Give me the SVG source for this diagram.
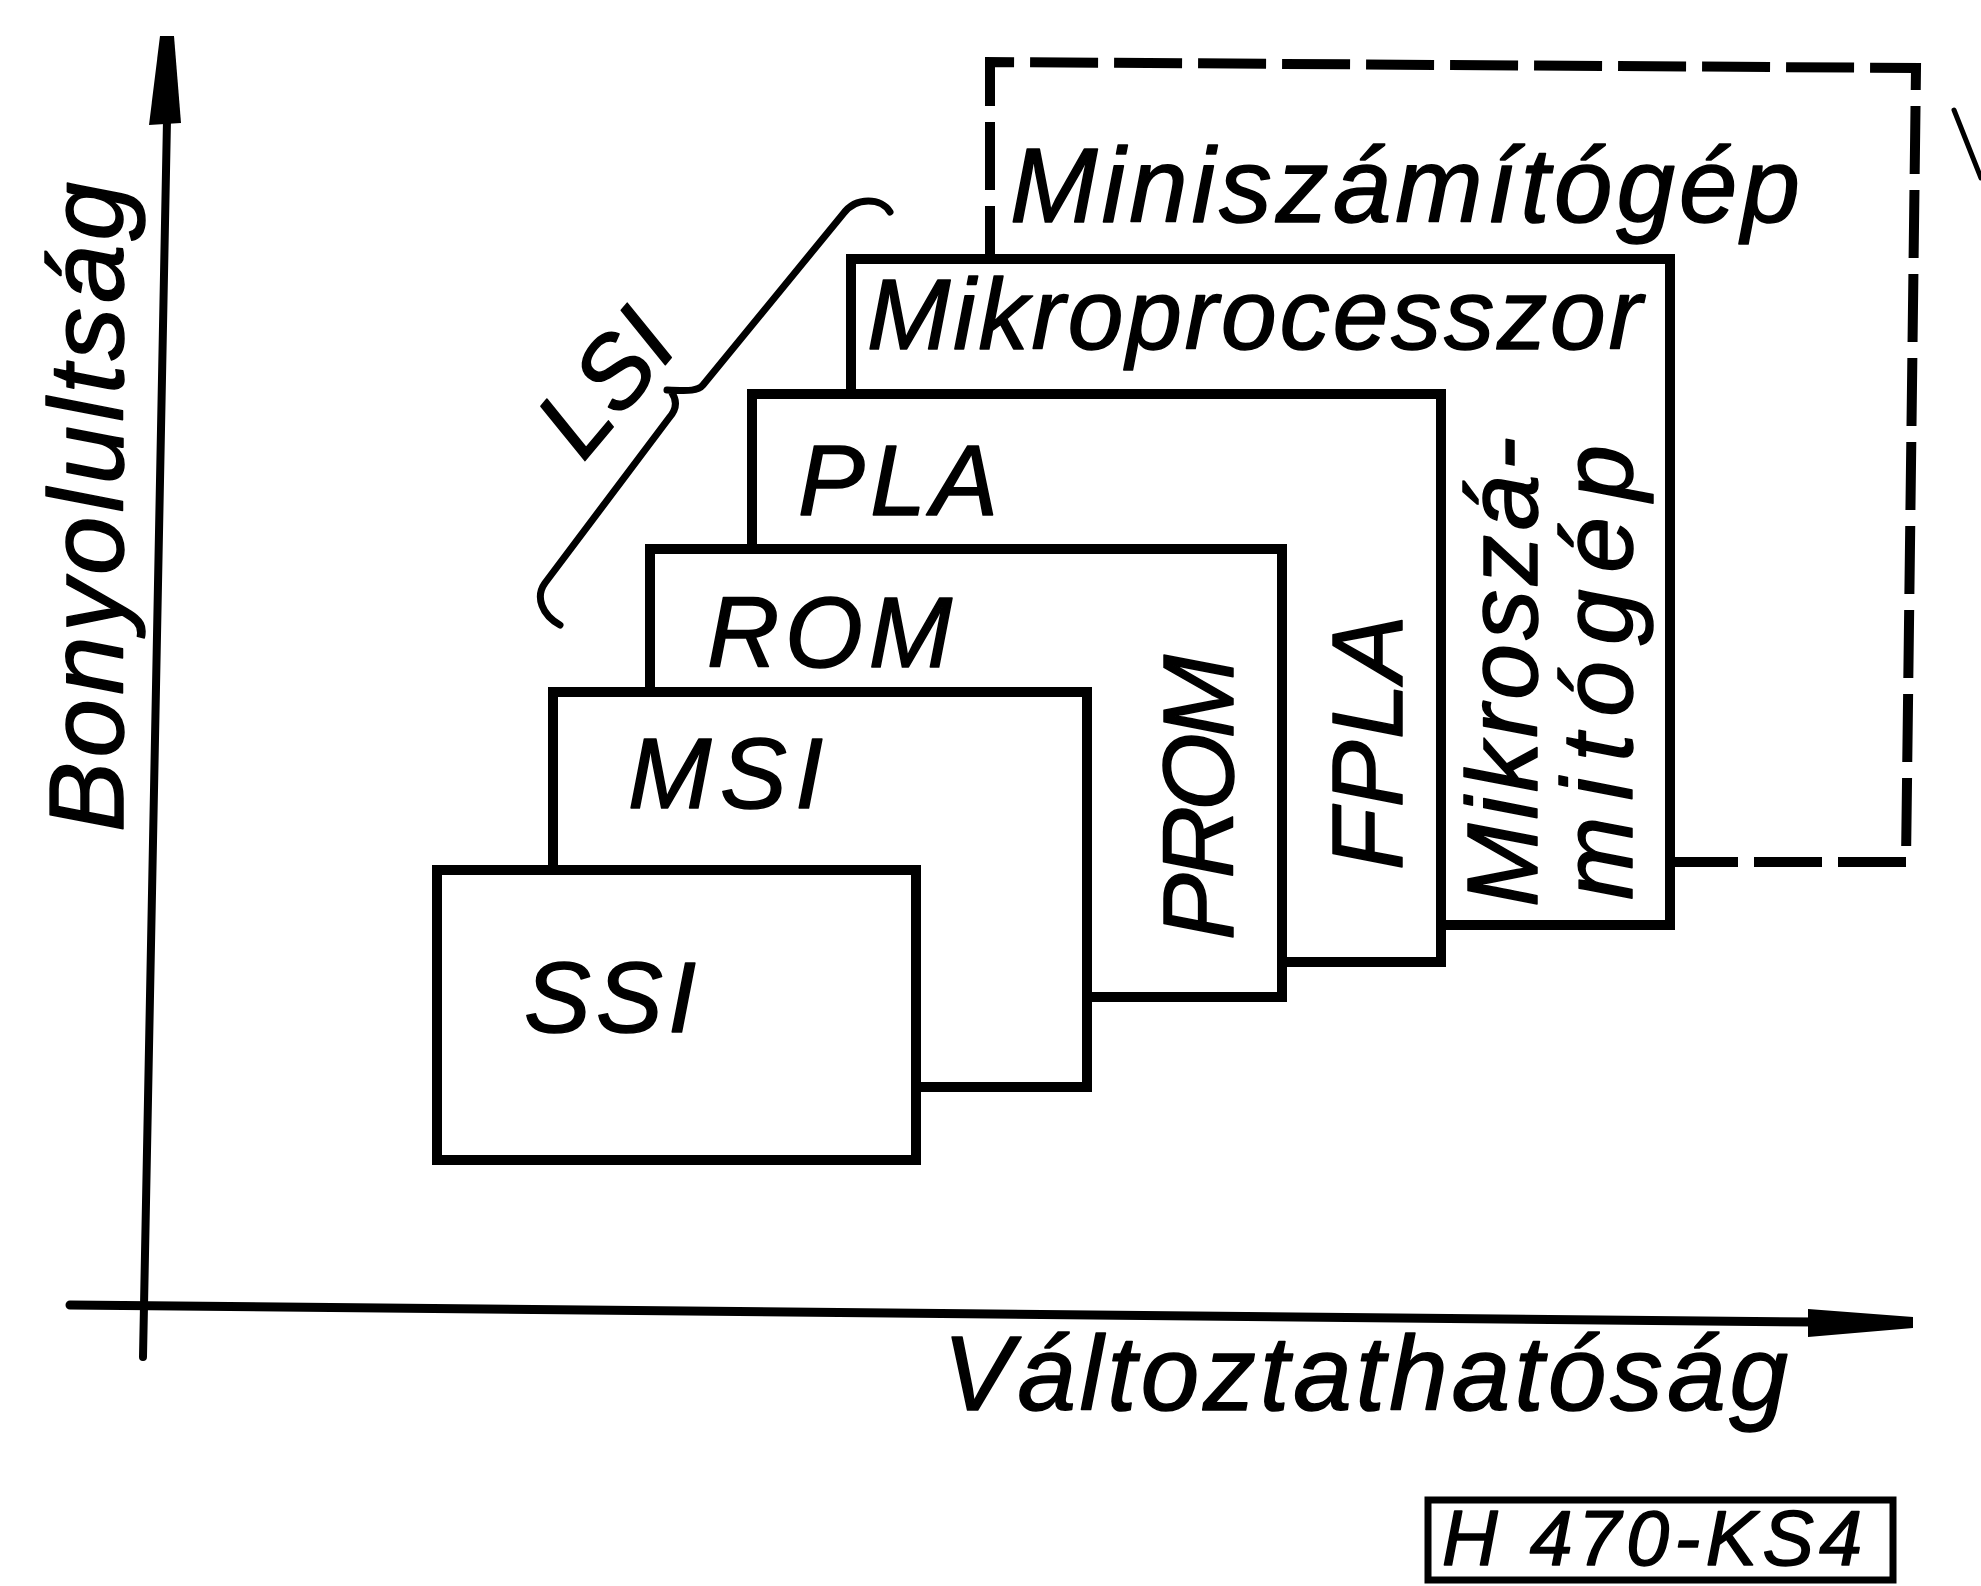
<svg xmlns="http://www.w3.org/2000/svg" width="1981" height="1586" viewBox="0 0 1981 1586">
<defs>
<style>
.box{fill:#fff;stroke:#000;stroke-width:10;stroke-linejoin:miter}
.dash{fill:none;stroke:#000;stroke-width:10;stroke-dasharray:68 16}
.ln{fill:none;stroke:#000;stroke-linecap:round;stroke-linejoin:round}
.t{font-family:"Liberation Sans",Arial,sans-serif;font-style:italic;font-size:100px;fill:#000;stroke:#000;stroke-width:1.5;stroke-linejoin:round}
.big{font-size:105px}
</style>
</defs>
<rect width="1981" height="1586" fill="#fff"/>

<g id="connectors">
  <g id="y-axis">
    <line class="ln" x1="167" y1="120" x2="143" y2="1357" stroke-width="8"/>
    <polygon points="160,36 174,36 181,123 149,125" fill="#000"/>
  </g>
  <g id="x-axis">
    <line class="ln" x1="70" y1="1305" x2="1815" y2="1322" stroke-width="9"/>
    <polygon points="1808,1309 1913,1317 1913,1328 1808,1337" fill="#000"/>
  </g>
</g>

<g id="node-miniszamitogep">
  <path class="dash" d="M1670 862 L1906 862 L1916 68 L990 62 L990 259"/>
  <text class="t big" x="1010" y="222" textLength="790">Miniszámítógép</text>
</g>

<g id="node-mikroprocesszor">
  <rect class="box" x="851" y="259" width="819" height="666"/>
  <text class="t" x="867" y="349" textLength="775">Mikroprocesszor</text>
  <text class="t" transform="translate(1537 907) rotate(-90)" textLength="470">Mikroszá-</text>
  <text class="t" transform="translate(1632 900) rotate(-90)" textLength="455">mitógép</text>
</g>

<g id="node-pla">
  <rect class="box" x="752" y="394" width="689" height="568"/>
  <text class="t" x="798" y="515" textLength="200">PLA</text>
  <text class="t" transform="translate(1402 870) rotate(-90)" textLength="255">FPLA</text>
</g>

<g id="node-rom">
  <rect class="box" x="650" y="549" width="632" height="448"/>
  <text class="t" x="707" y="667" textLength="245">ROM</text>
  <text class="t" transform="translate(1233 940) rotate(-90)" textLength="285">PROM</text>
</g>

<g id="node-msi">
  <rect class="box" x="553" y="692" width="534" height="395"/>
  <text class="t" x="628" y="808" textLength="195">MSI</text>
</g>

<g id="node-ssi">
  <rect class="box" x="437" y="870" width="479" height="290"/>
  <text class="t" x="524" y="1032" textLength="172">SSI</text>
</g>

<g id="lsi-brace">
  <path class="ln" stroke-width="7" d="M890 212 C882 198 856 196 843 214 L703 385 C698 391 690 391 667 390 M672 393 C678 402 676 410 669 418 L545 583 C535 597 542 615 560 625"/>
  <text class="t" transform="translate(583 463) rotate(-50)" textLength="152">LSI</text>
</g>

<g id="axis-labels">
  <text class="t big" transform="translate(123 832) rotate(-90)" textLength="650">Bonyolultság</text>
  <text class="t big" x="943" y="1410" textLength="845">Változtathatóság</text>
</g>

<g id="stray-line">
  <line class="ln" x1="1954" y1="110" x2="1981" y2="178" stroke-width="5"/>
</g>

<g id="figure-id">
  <rect x="1428" y="1500" width="465" height="80" fill="none" stroke="#000" stroke-width="7"/>
  <text class="t" x="1442" y="1565" style="font-size:77px" textLength="420">H 470-KS4</text>
</g>
</svg>
